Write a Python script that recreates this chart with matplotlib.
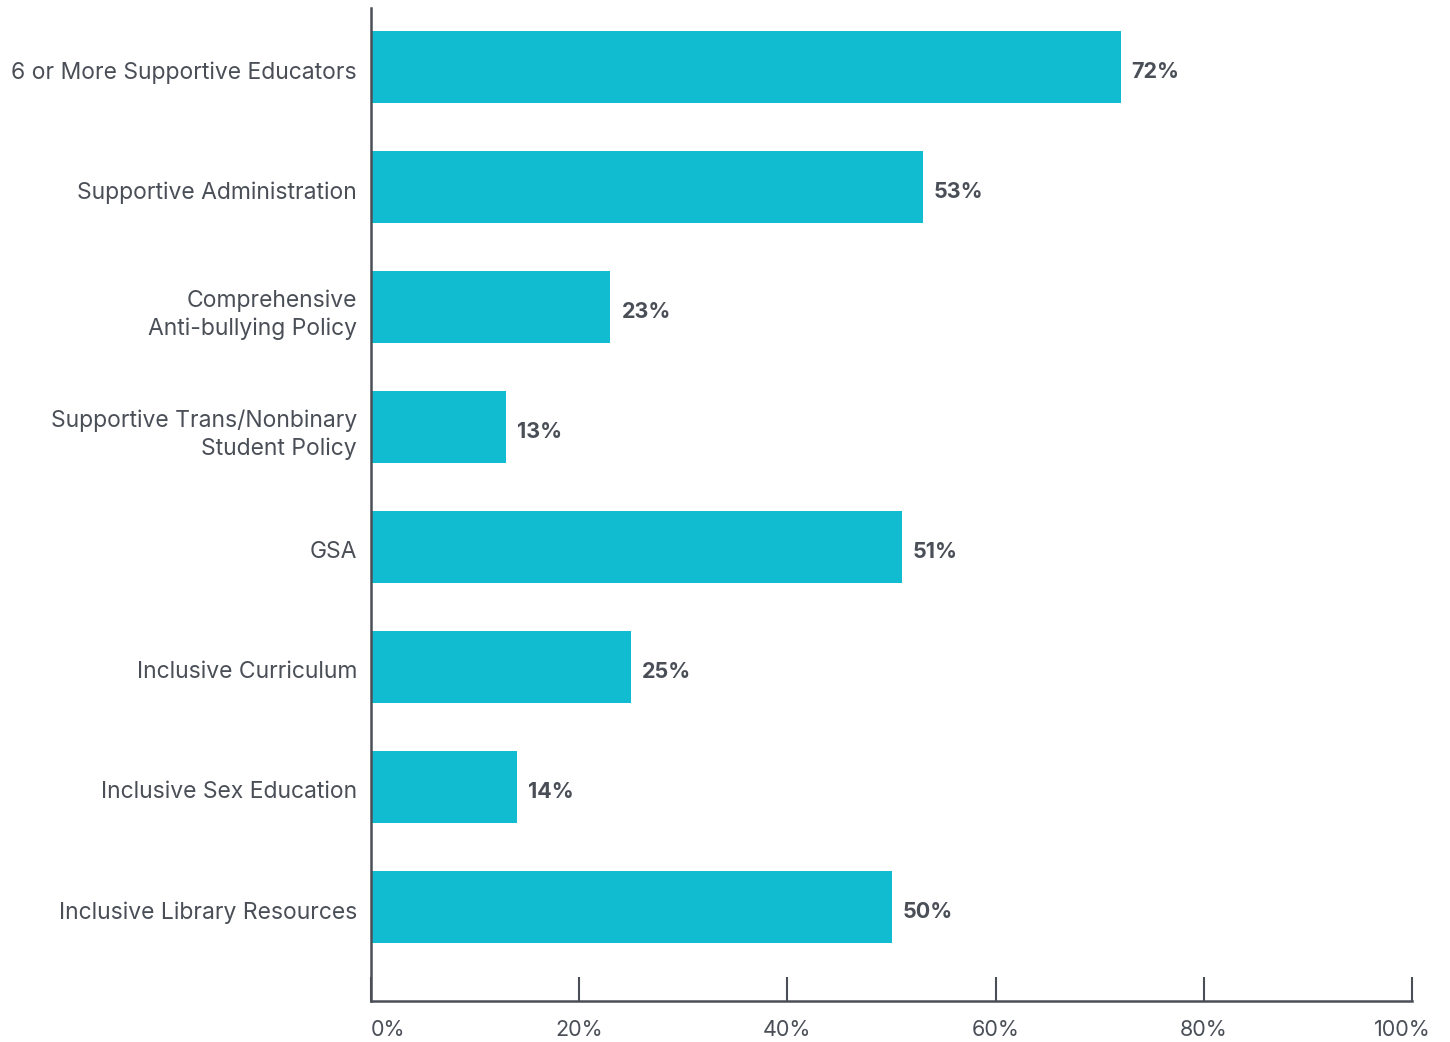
import matplotlib
matplotlib.use("Agg")
import matplotlib.pyplot as plt
import matplotlib.transforms as mtransforms

categories = [
    "6 or More Supportive Educators",
    "Supportive Administration",
    "Comprehensive\nAnti-bullying Policy",
    "Supportive Trans/Nonbinary\nStudent Policy",
    "GSA",
    "Inclusive Curriculum",
    "Inclusive Sex Education",
    "Inclusive Library Resources",
]
values = [72, 53, 23, 13, 51, 25, 14, 50]
xticks = [0, 20, 40, 60, 80, 100]
xtick_labels = ["0%", "20%", "40%", "60%", "80%", "100%"]

BAR = "#12BCD0"
TXT = "#4a4f57"

plt.rcParams['font.family'] = ['Inter', 'DejaVu Sans']

fig = plt.figure(figsize=(14.5, 10.42), dpi=100)
ax = fig.add_axes([371/1450, 41/1042, (1412-371)/1450, (1001-8)/1042])

y = list(range(len(categories)))
ax.barh(y, values, height=0.6, color=BAR, zorder=2)
ax.set_ylim(7.783, -0.49)
ax.set_xlim(0, 100)

for yi, v in zip(y, values):
    ax.annotate(f"{v}%", (v, yi), xytext=(11, -5), textcoords="offset pixels",
                ha="left", va="center", fontsize=15.5, fontweight="bold", color=TXT)

ax.set_yticks(y)
ax.set_yticklabels(categories, fontsize=16.5, color=TXT, linespacing=1.3)
ax.tick_params(axis="y", length=0, pad=10)
for lab in ax.get_yticklabels():
    lab.set_transform(lab.get_transform() + mtransforms.Affine2D().translate(0, -3))

ax.set_xticks(xticks)
ax.set_xticklabels(xtick_labels, fontsize=15.5, color=TXT)
ax.tick_params(axis="x", direction="in", length=17, width=1.5, color=TXT, pad=14)

labels = ax.get_xticklabels()
labels[0].set_ha("left")
labels[-1].set_transform(labels[-1].get_transform() +
                         mtransforms.Affine2D().translate(-10, 0))

for s in ["top", "right"]:
    ax.spines[s].set_visible(False)
for s in ["left", "bottom"]:
    ax.spines[s].set_color(TXT)
    ax.spines[s].set_linewidth(1.8)

fig.savefig("out.png", dpi=100)
